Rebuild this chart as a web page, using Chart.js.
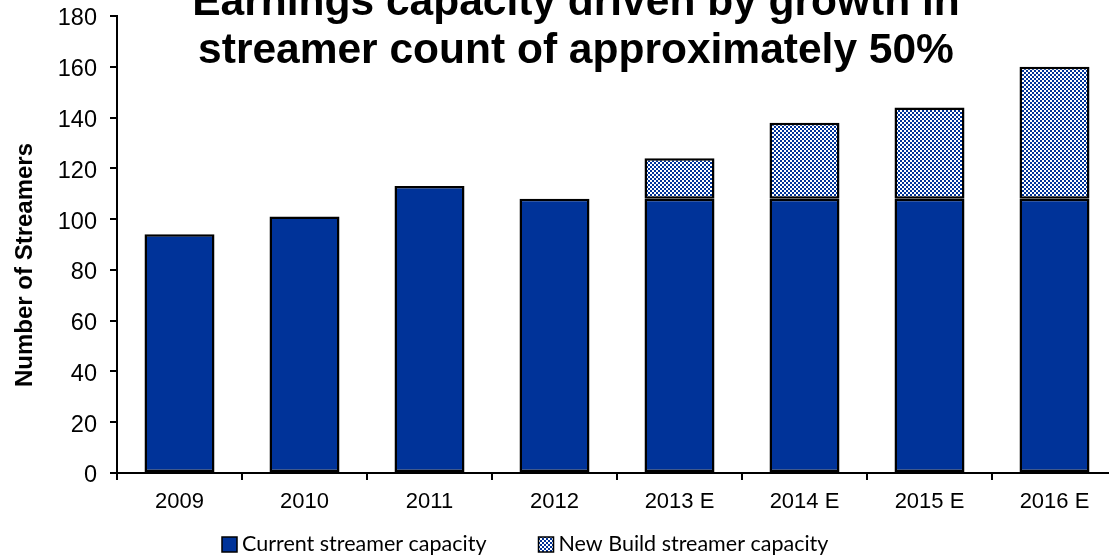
<!DOCTYPE html>
<html>
<head>
<meta charset="utf-8">
<script src="https://cdn.jsdelivr.net/npm/chart.js@4.4.1/dist/chart.umd.min.js"></script>
<style>
  body { margin: 0; background: #fff; }
  #wrap { width: 1109px; height: 555px; overflow: hidden; }
</style>
</head>
<body>
<div id="wrap"><canvas id="streamers" width="1150" height="555"></canvas></div>
<script>
const years = ['2009', '2010', '2011', '2012', '2013 E', '2014 E', '2015 E', '2016 E'];
const currentCapacity = [94, 101, 113, 108, 108, 108, 108, 108];
const newBuildCapacity = [null, null, null, null, 16, 30, 36, 52];
const yTicks = [0, 20, 40, 60, 80, 100, 120, 140, 160, 180];

const titleLines = ['Earnings capacity driven by growth in', 'streamer count of approximately 50%'];
const yTitle = 'Number of Streamers';

const BLUE = '#003399';
const AXIS_FONT = "'Liberation Sans', Arial, sans-serif";

// small blue/white checkerboard for the new build bars
function checkerPattern() {
    const c = document.createElement('canvas');
    c.width = 4;
    c.height = 4;
    const g = c.getContext('2d');
    g.fillStyle = '#fff';
    g.fillRect(0, 0, 4, 4);
    g.fillStyle = BLUE;
    g.fillRect(0, 0, 2, 2);
    g.fillRect(2, 2, 2, 2);
    return g.createPattern(c, 'repeat');
}

// title, rotated axis title and legend drawn on top of the chart
const decor = {
    id: 'decor',
    afterDraw(chart) {
        const ctx = chart.ctx;
        ctx.save();
        ctx.fillStyle = '#000';

        ctx.font = 'bold 42.5px ' + AXIS_FONT;
        ctx.textAlign = 'center';
        ctx.textBaseline = 'alphabetic';
        ctx.fillText(titleLines[0], 576, 15);
        ctx.fillText(titleLines[1], 576, 63);

        ctx.save();
        ctx.translate(32, 265);
        ctx.rotate(-Math.PI / 2);
        ctx.font = 'bold 24px ' + AXIS_FONT;
        ctx.fillText(yTitle, 0, 0);
        ctx.restore();

        ctx.font = "21.5px Lato, 'Noto Sans', sans-serif";
        ctx.textAlign = 'left';
        let x = 222;
        chart.data.datasets.forEach(ds => {
            ctx.fillStyle = ds.backgroundColor;
            ctx.fillRect(x, 537, 15, 15);
            ctx.strokeStyle = '#000';
            ctx.lineWidth = 1.5;
            ctx.strokeRect(x, 537, 15, 15);
            ctx.fillStyle = '#000';
            ctx.fillText(ds.label, x + 20, 551);
            x += 20 + ctx.measureText(ds.label).width + 52;
        });
        ctx.restore();
    }
};

new Chart(document.getElementById('streamers').getContext('2d'), {
    type: 'bar',
    data: {
        labels: years,
        datasets: [
            {
                label: 'Current streamer capacity',
                data: currentCapacity,
                backgroundColor: BLUE,
                borderColor: '#000',
                borderWidth: 2.5,
                borderSkipped: false,
                barPercentage: 0.56,
                categoryPercentage: 1
            },
            {
                label: 'New Build streamer capacity',
                data: newBuildCapacity,
                backgroundColor: checkerPattern(),
                borderColor: '#000',
                borderWidth: 2.5,
                borderSkipped: false,
                barPercentage: 0.56,
                categoryPercentage: 1
            }
        ]
    },
    options: {
        responsive: false,
        animation: false,
        devicePixelRatio: 1,
        layout: { padding: { top: 16, right: 33, bottom: 42, left: 0 } },
        plugins: {
            legend: { display: false },
            title: { display: false },
            tooltip: { enabled: false }
        },
        scales: {
            x: {
                stacked: true,
                afterFit: s => { s.height = 40; s.paddingLeft = 0; s.paddingRight = 0; },
                border: { display: true, color: '#000', width: 2 },
                grid: { drawOnChartArea: false, drawTicks: true, tickLength: 7, color: '#000', lineWidth: 2, offset: true },
                ticks: { color: '#000', padding: 9, font: { family: AXIS_FONT, size: 22 } }
            },
            y: {
                stacked: true,
                min: 0,
                max: 180,
                afterFit: s => { s.width = 117; s.paddingTop = 0; s.paddingBottom = 0; },
                afterBuildTicks: s => { s.ticks = yTicks.map(v => ({ value: v })); },
                border: { display: true, color: '#000', width: 2 },
                grid: { drawOnChartArea: false, drawTicks: true, tickLength: 7, color: '#000', lineWidth: 2 },
                ticks: { color: '#000', padding: 13, labelOffset: 3, font: { family: AXIS_FONT, size: 23.5 } }
            }
        }
    },
    plugins: [decor]
});
</script>
</body>
</html>
